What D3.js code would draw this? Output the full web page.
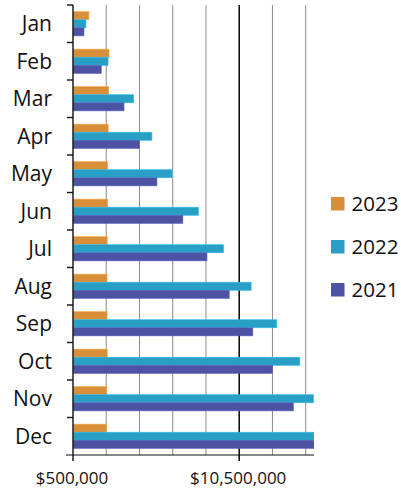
<!DOCTYPE html>
<html><head><meta charset="utf-8">
<script src="https://cdn.jsdelivr.net/npm/d3@7"></script>
<style>body{margin:0;background:#fff}svg{display:block}text{font-family:"Open Sans",sans-serif;fill:#111}</style>
</head><body>
<script>
const months = ["Jan","Feb","Mar","Apr","May","Jun","Jul","Aug","Sep","Oct","Nov","Dec"];
const series = ["2023","2022","2021"];
const v2023 = [1460000,2670000,2650000,2620000,2590000,2590000,2560000,2550000,2550000,2560000,2530000,2510000];
const v2022 = [1280000,2610000,4150000,5250000,6460000,8050000,9560000,11220000,12760000,14150000,14980000,15000000];
const v2021 = [1160000,2200000,3570000,4490000,5550000,7110000,8560000,9900000,11320000,12510000,13760000,15000000];
const xTickLabels = [500000, 10500000];
const gridValues = [2500000,4500000,6500000,8500000,10500000,12500000,14500000];
const colors = {"2023":"#d98e3a","2022":"#2a9fc6","2021":"#4d52a3"};
const values = {"2023":v2023,"2022":v2022,"2021":v2021};

const W=401,H=493;
const svg=d3.select("body").append("svg").attr("width",W).attr("height",H);
const x=d3.scaleLinear().domain([500000,15000000]).range([73,314]);
const y=d3.scaleBand().domain(months).range([5,455]).padding(0);
const y1=d3.scaleBand().domain(series).range([0,y.bandwidth()]).paddingInner(0).paddingOuter(0.82);

// gridlines
svg.append("g").selectAll("line").data(gridValues).join("line")
  .attr("x1",d=>x(d)).attr("x2",d=>x(d)).attr("y1",5).attr("y2",d=>d===10500000?461:455)
  .attr("stroke",d=>d===10500000?"#111":"#8a8a8a").attr("stroke-width",d=>d===10500000?1.6:1);

// bars
const clip=svg.append("clipPath").attr("id","c").append("rect").attr("x",73).attr("y",0).attr("width",241).attr("height",460);
const g=svg.append("g").attr("clip-path","url(#c)");
months.forEach((m,i)=>{
  series.forEach(s=>{
    g.append("rect").attr("x",x(500000)).attr("y",y(m)+y1(s))
     .attr("width",x(Math.min(values[s][i],15000000))-x(500000)).attr("height",y1.bandwidth())
     .attr("fill",colors[s]).attr("stroke",d3.color(colors[s]).brighter(0.5)).attr("stroke-width",0.6);
  });
});

// axes
const ax=svg.append("g").attr("stroke","#111").attr("stroke-width",1.4);
ax.append("line").attr("x1",73).attr("x2",73).attr("y1",5).attr("y2",461);
ax.append("line").attr("x1",66).attr("x2",314).attr("y1",455).attr("y2",455).attr("stroke-width",1.2);
ax.selectAll(".ct").data(months).join("line").attr("class","ct")
  .attr("x1",67).attr("x2",73).attr("y1",d=>y(d)).attr("y2",d=>y(d));

// month labels
svg.append("g").selectAll("text").data(months).join("text")
  .attr("x",52).attr("y",d=>y(d)+y.bandwidth()/2+7.5).attr("text-anchor","end")
  .attr("font-size",21).text(d=>d);

// x labels
svg.append("g").selectAll("text").data(xTickLabels).join("text")
  .attr("x",d=>x(d)-1).attr("y",484).attr("text-anchor","middle").attr("font-size",17)
  .text(d=>"$"+d3.format(",")(d));

// legend
const lg=svg.append("g").selectAll("g").data(series).join("g")
  .attr("transform",(d,i)=>`translate(331,${197+i*43})`);
lg.append("rect").attr("width",13.5).attr("height",13.5).attr("fill",d=>colors[d]);
lg.append("text").attr("x",20.5).attr("y",13.5).attr("font-size",20.5).text(d=>d);
</script>
</body></html>
